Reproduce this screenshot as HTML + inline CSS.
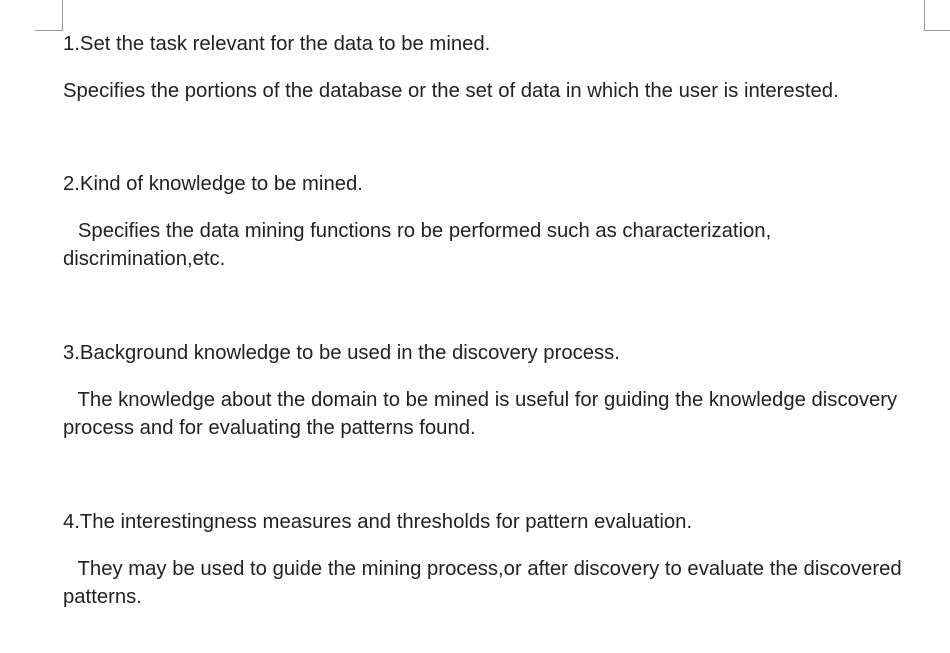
<!DOCTYPE html>
<html><head><meta charset="utf-8"><style>
html,body{margin:0;padding:0;background:#fff;width:950px;height:653px;overflow:hidden;position:relative}
.t{position:absolute;left:63px;font-family:"Liberation Sans",Arial,sans-serif;font-size:20.3px;color:#222;white-space:pre;line-height:28px}
.l{position:absolute;background:#999}
</style></head><body>
<div class="l" style="left:62px;top:0;width:1px;height:30px"></div>
<div class="l" style="left:35px;top:30px;width:28px;height:1px"></div>
<div class="l" style="left:924px;top:0;width:1px;height:30px"></div>
<div class="l" style="left:924px;top:30px;width:26px;height:1px"></div>
<div class="t" style="top:30px">1.Set the task relevant for the data to be mined.</div>
<div class="t" style="top:77px">Specifies the portions of the database or the set of data in which the user is interested.</div>
<div class="t" style="top:170px">2.Kind of knowledge to be mined.</div>
<div class="t" style="top:217px;left:61px">   Specifies the data mining functions ro be performed such as characterization,</div>
<div class="t" style="top:245px">discrimination,etc.</div>
<div class="t" style="top:339px">3.Background knowledge to be used in the discovery process.</div>
<div class="t" style="top:386px;left:61px">   The knowledge about the domain to be mined is useful for guiding the knowledge discovery</div>
<div class="t" style="top:414px">process and for evaluating the patterns found.</div>
<div class="t" style="top:508px">4.The interestingness measures and thresholds for pattern evaluation.</div>
<div class="t" style="top:555px;left:61px">   They may be used to guide the mining process,or after discovery to evaluate the discovered</div>
<div class="t" style="top:583px">patterns.</div>
</body></html>
